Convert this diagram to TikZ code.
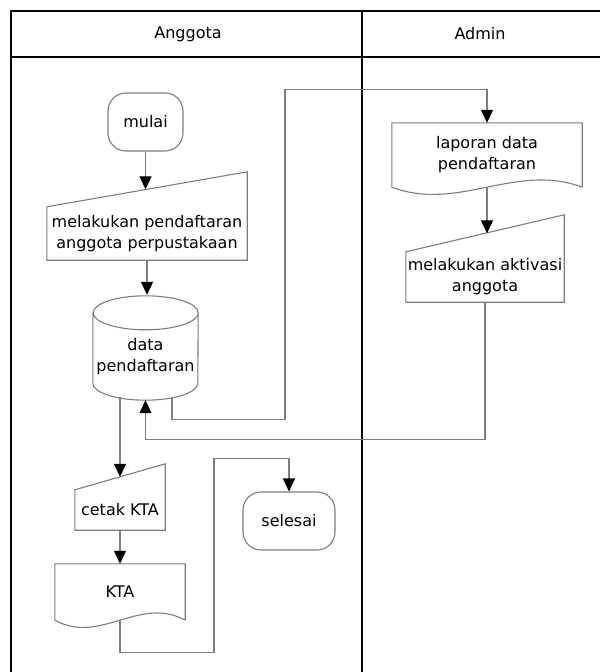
\documentclass[tikz,border=0pt]{standalone}
\usepackage{fontspec}
\setmainfont{DejaVu Sans}
\usetikzlibrary{arrows.meta, calc}
\definecolor{abu}{RGB}{125,125,125}
\tikzset{
    %garis bentuk dan panah
    garis/.style={draw=abu, line width=1.1pt},
    panah/.style={
           -{Triangle[width=12pt,length=13pt,color=black]},
           draw=abu, line width=1.1pt},
    bingkai/.style={draw=black, line width=2.4pt},
    %terminator
    ujung/.style={
           rectangle,
           rounded corners=18pt,
           garis,
           minimum height=58pt,
           inner sep=0pt},
    %input manual, #1 = kemiringan atas
    masukan/.style={
           inner sep=0pt,
           append after command={\pgfextra{\draw[garis]
              (\tikzlastnode.south west) -- (\tikzlastnode.north west)
              -- ([yshift=#1]\tikzlastnode.north east)
              -- (\tikzlastnode.south east) -- cycle;}}},
    %dokumen
    dokumen/.style={
           inner sep=0pt,
           append after command={\pgfextra{\draw[garis]
              (\tikzlastnode.south east) -- (\tikzlastnode.north east)
              -- (\tikzlastnode.north west) -- (\tikzlastnode.south west)
              .. controls ($(\tikzlastnode.south west)!0.35!(\tikzlastnode.south east)+(0pt,-25pt)$)
              and ($(\tikzlastnode.south west)!0.65!(\tikzlastnode.south east)+(0pt,25pt)$)
              .. (\tikzlastnode.south east);}}},
    %penyimpanan data
    basisdata/.style={
           inner sep=0pt,
           minimum width=105pt,
           minimum height=87pt,
           append after command={\pgfextra{\draw[garis]
              (\tikzlastnode.north west) -- ([yshift=17pt]\tikzlastnode.south west)
              arc[start angle=180, end angle=360, x radius=52.5pt, y radius=17pt]
              -- (\tikzlastnode.north east)
              arc[start angle=0, end angle=180, x radius=52.5pt, y radius=17pt]
              arc[start angle=180, end angle=360, x radius=52.5pt, y radius=17pt];}}}
}
\begin{document}
\begin{tikzpicture}[x=1pt, y=-1pt, align=center, font=\fontsize{16}{21}\selectfont]
	\useasboundingbox (0,0) rectangle (600,672);
	%
	% kolom
	%
	\draw[bingkai] (11,672) -- (11,11) -- (600,11);
	\draw[bingkai] (11,57) -- (600,57);
	\draw[bingkai] (362,11) -- (362,672);
	\node (anggota) at (188,34) {Anggota};
	\node (admin) at (480,34) {Admin};
	%
	% simpul
	%
	\node[ujung, minimum width=75pt] (mulai) at (145.5,122) {mulai};
	\node[masukan=35pt, minimum width=200pt, minimum height=53pt] (daftar) at (147,233.5) {melakukan pendaftaran\\anggota perpustakaan};
	\node[basisdata] (data) at (145.5,356.5) {data\\pendaftaran};
	\node[masukan=26pt, minimum width=90pt, minimum height=40pt] (cetak) at (120,510) {cetak KTA};
	\node[dokumen, minimum width=130pt, minimum height=56pt] (kta) at (120,592) {KTA};
	\node[ujung, minimum width=92pt] (selesai) at (289,521) {selesai};
	\node[dokumen, minimum width=190pt, minimum height=64pt] (laporan) at (487,155) {laporan data\\pendaftaran};
	\node[masukan=37pt, minimum width=158pt, minimum height=50pt] (aktivasi) at (485,277) {melakukan aktivasi\\anggota};
	\coordinate (daftar-atas) at ($(daftar.north)+(0pt,17.5pt)$);
	\coordinate (data-atas) at ($(data.north)+(0pt,18pt)$);
	\coordinate (cetak-atas) at ($(cetak.north)+(0pt,13pt)$);
	\coordinate (aktivasi-atas) at ($(aktivasi.north)+(0pt,18.5pt)$);
	%
	% alur
	%
	\draw[panah] (mulai.south) -- (mulai.south |- daftar-atas);
	\draw[panah] (daftar.south) -- (daftar.south |- data-atas);
	\draw[panah] ([xshift=-25.5pt,yshift=3pt]data.south) -- (cetak-atas);
	\draw[panah] (cetak.south) -- (kta.north);
	\draw[panah] (kta.south) -- ++(0,32) -- ++(94,0) |- ($(selesai.north)+(0pt,33pt)$) -- (selesai.north);
	\draw[panah] ([xshift=26.5pt,yshift=3pt]data.south) -- ++(0,22) -- ++(113,0) |- ($(laporan.north)+(0pt,33pt)$) -- (laporan.north);
	\draw[panah] (laporan.south) -- (laporan.south |- aktivasi-atas);
	\draw[panah] (aktivasi.south) -- ++(0,137) -| (data.south);
\end{tikzpicture}
\end{document}
